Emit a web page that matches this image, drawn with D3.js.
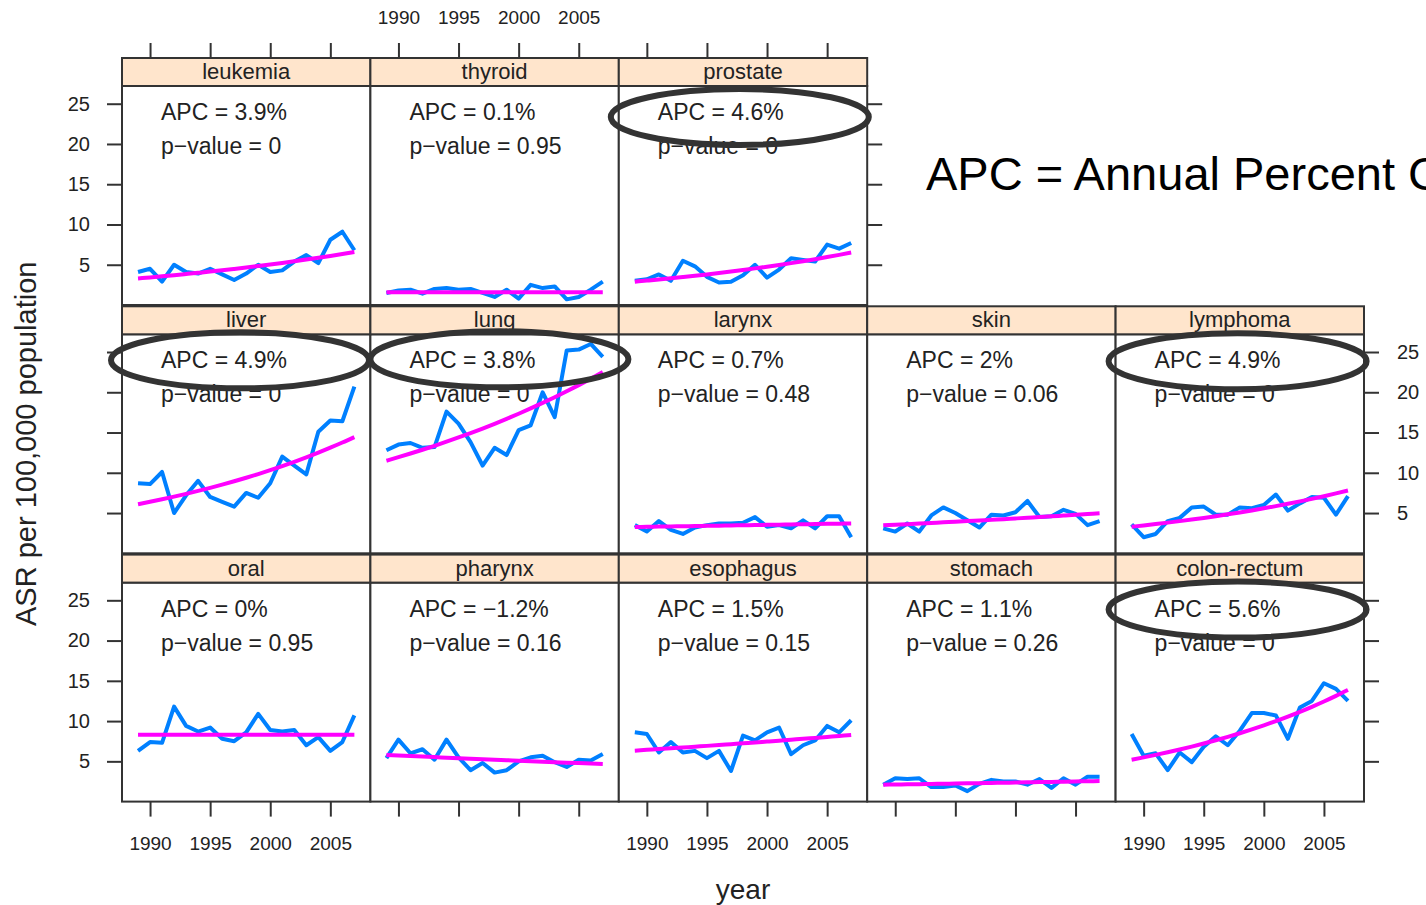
<!DOCTYPE html>
<html>
<head>
<meta charset="utf-8">
<script src="https://cdn.jsdelivr.net/npm/d3@7/dist/d3.min.js"></script>
<style>
  html, body { margin: 0; padding: 0; background: #fff; }
  svg { display: block; font-family: "Liberation Sans", Arial, sans-serif; }
</style>
</head>
<body>
<svg id="chart" width="1426" height="905"></svg>
<script>
// Cancer incidence trends: age-standardised rates per 100,000, 1989–2007
const years = [1989, 1990, 1991, 1992, 1993, 1994, 1995, 1996, 1997, 1998,
               1999, 2000, 2001, 2002, 2003, 2004, 2005, 2006, 2007];

const sites = ["leukemia", "thyroid", "prostate",
               "liver", "lung", "larynx", "skin", "lymphoma",
               "oral", "pharynx", "esophagus", "stomach", "colon-rectum"];

// grid cell (row, column) of each site panel
const panelRow = [0, 0, 0, 1, 1, 1, 1, 1, 2, 2, 2, 2, 2];
const panelCol = [0, 1, 2, 0, 1, 2, 3, 4, 0, 1, 2, 3, 4];

// observed ASR per site
const leukemia    = [4.1, 4.5, 2.9, 5.0, 4.1, 3.9, 4.5, 3.8, 3.1, 3.9, 5.0, 4.1, 4.3, 5.4, 6.2, 5.2, 8.1, 9.1, 6.8];
const thyroid     = [1.5, 1.8, 1.9, 1.4, 2.0, 2.1, 1.9, 2.0, 1.5, 1.0, 1.9, 0.8, 2.5, 2.1, 2.3, 0.7, 1.0, 1.9, 2.9];
const prostate    = [3.0, 3.2, 3.8, 3.0, 5.5, 4.8, 3.5, 2.8, 2.9, 3.7, 5.0, 3.4, 4.4, 5.8, 5.6, 5.4, 7.5, 7.0, 7.7];
const liver       = [8.7, 8.6, 10.1, 5.0, 7.2, 9.0, 7.0, 6.4, 5.8, 7.5, 6.9, 8.7, 12.0, 10.9, 9.8, 15.1, 16.5, 16.4, 20.7];
const lung        = [12.8, 13.5, 13.7, 13.1, 13.2, 17.6, 16.1, 13.8, 10.9, 13.1, 12.2, 15.3, 15.9, 20.0, 16.9, 25.2, 25.3, 26.0, 24.4];
const larynx      = [3.5, 2.7, 4.0, 2.9, 2.4, 3.2, 3.5, 3.7, 3.7, 3.8, 4.5, 3.3, 3.5, 3.1, 4.1, 3.1, 4.6, 4.6, 2.0];
const skin        = [3.1, 2.7, 3.7, 2.7, 4.7, 5.7, 5.0, 4.1, 3.2, 4.8, 4.7, 5.1, 6.5, 4.5, 4.6, 5.4, 4.9, 3.5, 4.0];
const lymphoma    = [3.6, 2.0, 2.4, 4.0, 4.4, 5.7, 5.8, 4.8, 4.8, 5.7, 5.6, 6.0, 7.3, 5.3, 6.2, 7.0, 6.9, 4.8, 7.1];
const oral        = [6.3, 7.4, 7.3, 11.8, 9.4, 8.7, 9.2, 7.8, 7.5, 8.6, 10.9, 8.9, 8.7, 8.9, 7.0, 8.0, 6.3, 7.4, 10.7];
const pharynx     = [5.4, 7.7, 6.0, 6.5, 5.2, 7.7, 5.5, 3.9, 4.8, 3.6, 3.9, 5.0, 5.5, 5.7, 4.9, 4.3, 5.2, 5.1, 5.9];
const esophagus   = [8.6, 8.4, 6.1, 7.4, 6.1, 6.3, 5.4, 6.3, 3.8, 8.2, 7.6, 8.6, 9.2, 5.9, 7.0, 7.6, 9.4, 8.6, 10.1];
const stomach     = [2.1, 2.9, 2.8, 2.9, 1.8, 1.8, 2.0, 1.3, 2.2, 2.7, 2.5, 2.5, 2.1, 2.8, 1.7, 2.9, 2.1, 3.1, 3.1];
const colonRectum = [8.4, 5.7, 6.0, 3.9, 6.1, 4.9, 6.8, 8.1, 7.0, 8.8, 11.0, 11.0, 10.7, 7.8, 11.7, 12.5, 14.7, 14.0, 12.5];
const observed = [leukemia, thyroid, prostate, liver, lung, larynx, skin, lymphoma,
                  oral, pharynx, esophagus, stomach, colonRectum];

// annual percent change and p-value of the log-linear trend
const apc     = [3.9, 0.1, 4.6, 4.9, 3.8, 0.7, 2, 4.9, 0, -1.2, 1.5, 1.1, 5.6];
const pValues = ["0", "0.95", "0", "0", "0", "0.48", "0.06", "0", "0.95", "0.16", "0.15", "0.26", "0"];
// fitted ASR in the first year of the trend
const fitStart = [3.3, 1.57, 2.9, 6.1, 11.5, 3.27, 3.48, 3.3, 8.3, 5.8, 6.33, 2.1, 5.2];

// sites with a significant rise, circled
const circled = ["prostate", "liver", "lung", "lymphoma", "colon-rectum"];

const xTicks = [1990, 1995, 2000, 2005];
const yTicks = [5, 10, 15, 20, 25];

// ---- layout ----
const marginLeft = 122, marginTop = 58;
const panelW = 248.4, panelH = 219, stripH = 28, rowPitch = 248.3;
const tickLen = 15;
const ink = "#222";

// hand-drawn circle placement, relative to each panel's top-left corner
const circleOffset = {
  "prostate":     [121, 31],
  "liver":        [118, 26],
  "lung":         [129, 25],
  "lymphoma":     [122, 27],
  "colon-rectum": [122, 27]
};

const x = d3.scaleLinear().domain([1987.667, 2008.333]).range([0, panelW]);
const y = d3.scaleLinear().domain([0, 27.2]).range([panelH, 0]);

const svg = d3.select("#chart");

const rows = sites.map((s, i) => ({
  site: s, row: panelRow[i], col: panelCol[i],
  values: observed[i], apc: apc[i], p: pValues[i], fit0: fitStart[i]
}));

const px = c => marginLeft + c * panelW;
const stripY = r => marginTop + r * rowPitch;
const panelY = r => stripY(r) + stripH;

const line = d3.line().x(d => x(d[0])).y(d => y(d[1]));
const curve = d3.line().x(d => x(d[0])).y(d => y(d[1])).curve(d3.curveMonotoneX);

const panels = svg.selectAll("g.panel").data(rows).join("g")
  .attr("class", "panel")
  .attr("transform", d => `translate(${px(d.col)},${panelY(d.row)})`);

panels.append("rect")
  .attr("width", panelW).attr("height", panelH).attr("fill", "#fff");

panels.append("text")
  .attr("x", 39).attr("y", 34)
  .attr("font-size", 23).attr("fill", ink)
  .text(d => `APC = ${d.apc < 0 ? "\u2212" + Math.abs(d.apc) : d.apc}%`);

panels.append("text")
  .attr("x", 39).attr("y", 68)
  .attr("font-size", 23).attr("fill", ink)
  .text(d => `p\u2212value = ${d.p}`);

panels.append("path")
  .attr("fill", "none").attr("stroke", "#0080ff").attr("stroke-width", 4)
  .attr("stroke-linejoin", "round")
  .attr("d", d => line(years.map((yr, k) => [yr, d.values[k]])));

// fitted exponential trend: fit0 * (1 + APC)^(t)
panels.append("path")
  .attr("fill", "none").attr("stroke", "#ff00ff").attr("stroke-width", 4)
  .attr("d", d => curve(years.map(yr => [yr, d.fit0 * Math.pow(1 + d.apc / 100, yr - years[0])])));

panels.append("rect")
  .attr("width", panelW).attr("height", panelH)
  .attr("fill", "none").attr("stroke", "#333").attr("stroke-width", 2);

// strips
const strips = svg.selectAll("g.strip").data(rows).join("g")
  .attr("class", "strip")
  .attr("transform", d => `translate(${px(d.col)},${stripY(d.row)})`);
strips.append("rect")
  .attr("width", panelW).attr("height", stripH)
  .attr("fill", "#ffe5cc").attr("stroke", "#333").attr("stroke-width", 2);
strips.append("text")
  .attr("x", panelW / 2).attr("y", 21)
  .attr("text-anchor", "middle").attr("font-size", 22).attr("fill", ink)
  .text(d => d.site);

// ---- axes ----
function styleAxis(g, fs) {
  g.select(".domain").remove();
  g.selectAll(".tick line").attr("stroke", "#333").attr("stroke-width", 2);
  g.selectAll(".tick text").attr("font-size", fs).attr("fill", ink)
    .attr("font-family", "Liberation Sans, Arial, sans-serif");
}

// left: rows 0 and 2 labelled, row 1 ticks only
[0, 1, 2].forEach(r => {
  const g = svg.append("g").attr("transform", `translate(${marginLeft},${panelY(r)})`)
    .call(d3.axisLeft(y).tickValues(yTicks).tickSize(tickLen).tickPadding(17)
      .tickFormat(r === 1 ? "" : d3.format("d")));
  styleAxis(g, 20);
});

// right: row 0 at the prostate panel, rows 1-2 at the last column; row 1 labelled
[[0, 3], [1, 5], [2, 5]].forEach(([r, c]) => {
  const g = svg.append("g").attr("transform", `translate(${px(c)},${panelY(r)})`)
    .call(d3.axisRight(y).tickValues(yTicks).tickSize(tickLen).tickPadding(18)
      .tickFormat(r === 1 ? d3.format("d") : ""));
  styleAxis(g, 20);
});

// bottom: all five columns, labels on columns 1, 3, 5
[0, 1, 2, 3, 4].forEach(c => {
  const g = svg.append("g").attr("transform", `translate(${px(c)},${panelY(2) + panelH})`)
    .call(d3.axisBottom(x).tickValues(xTicks).tickSize(tickLen).tickPadding(20)
      .tickFormat(c % 2 === 0 ? d3.format("d") : ""));
  styleAxis(g, 19);
});

// top: first three columns, labels on the middle one
[0, 1, 2].forEach(c => {
  const g = svg.append("g").attr("transform", `translate(${px(c)},${marginTop})`)
    .call(d3.axisTop(x).tickValues(xTicks).tickSize(tickLen).tickPadding(19)
      .tickFormat(c === 1 ? d3.format("d") : ""));
  styleAxis(g, 19);
});

// axis titles
svg.append("text")
  .attr("transform", `translate(36,${(panelY(0) + panelY(2) + panelH) / 2}) rotate(-90)`)
  .attr("text-anchor", "middle").attr("font-size", 29).attr("fill", ink)
  .text("ASR per 100,000 population");
svg.append("text")
  .attr("x", marginLeft + 2.5 * panelW).attr("y", 899)
  .attr("text-anchor", "middle").attr("font-size", 28).attr("fill", ink)
  .text("year");

// circled APC values
svg.selectAll("ellipse.mark").data(rows.filter(d => circled.includes(d.site))).join("ellipse")
  .attr("class", "mark")
  .attr("cx", d => px(d.col) + circleOffset[d.site][0])
  .attr("cy", d => panelY(d.row) + circleOffset[d.site][1])
  .attr("rx", 129).attr("ry", 28)
  .attr("fill", "none").attr("stroke", "#333").attr("stroke-width", 6);

svg.append("text")
  .attr("x", 926).attr("y", 190)
  .attr("font-size", 47).attr("fill", "#000")
  .text("APC = Annual Percent Change");
</script>
</body>
</html>
